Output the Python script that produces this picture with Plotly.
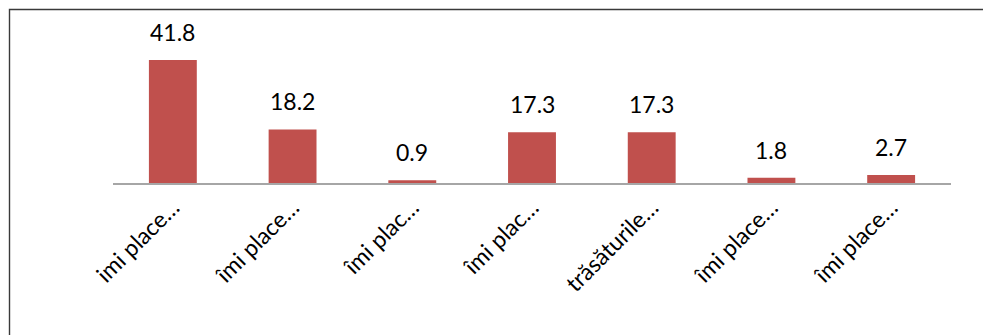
import plotly.graph_objects as go

# Category labels (truncated as displayed on the axis)
labels = ["imi place…", "îmi place…", "îmi plac…", "îmi plac…",
          "trăsăturile…", "îmi place…", "îmi place…"]
values = [41.8, 18.2, 0.9, 17.3, 17.3, 1.8, 2.7]
positions = list(range(len(labels)))

BAR_COLOR = "#C0504D"
FONT = "Lato, 'Open Sans', sans-serif"

W, H = 983, 335
ML, MR, MT, MB = 113, 32, 36, 152
plot_w = W - ML - MR
plot_h = H - MT - MB


def px_to_paper_x(px):
    return (px - ML) / plot_w


def px_to_paper_y(py):
    return (H - MB - py) / plot_h


fig = go.Figure()
fig.add_trace(go.Bar(
    x=positions,
    y=values,
    width=0.4,
    marker=dict(color=BAR_COLOR, line=dict(width=0)),
    hoverinfo="skip",
))

# Value labels above each bar
for xi, v in zip(positions, values):
    fig.add_annotation(
        x=xi, y=v, text=f"{v}", showarrow=False,
        yanchor="bottom", yshift=12,
        font=dict(family=FONT, size=23, color="#000000"),
    )

# Outer chart frame
fig.add_shape(
    type="rect", xref="paper", yref="paper", layer="below",
    x0=px_to_paper_x(9.5), x1=px_to_paper_x(1000),
    y0=px_to_paper_y(360), y1=px_to_paper_y(9.5),
    line=dict(color="#3a3a3a", width=1.4),
    fillcolor="rgba(0,0,0,0)",
)

fig.update_layout(
    width=W, height=H,
    margin=dict(l=ML, r=MR, t=MT, b=MB, pad=0),
    paper_bgcolor="white",
    plot_bgcolor="white",
    showlegend=False,
    font=dict(family=FONT, size=23, color="#000000"),
    xaxis=dict(
        range=[-0.5, len(labels) - 0.5],
        tickmode="array", tickvals=positions, ticktext=labels,
        tickangle=-45, showgrid=False, zeroline=False,
        showline=True, linecolor="#A6A6A6", linewidth=2,
        ticks="", ticklen=0,
        tickfont=dict(family=FONT, size=23, color="#000000"),
        fixedrange=True,
    ),
    yaxis=dict(
        range=[0, 50], visible=False, showgrid=False, zeroline=False,
        fixedrange=True,
    ),
)

fig.write_html("out.html")
